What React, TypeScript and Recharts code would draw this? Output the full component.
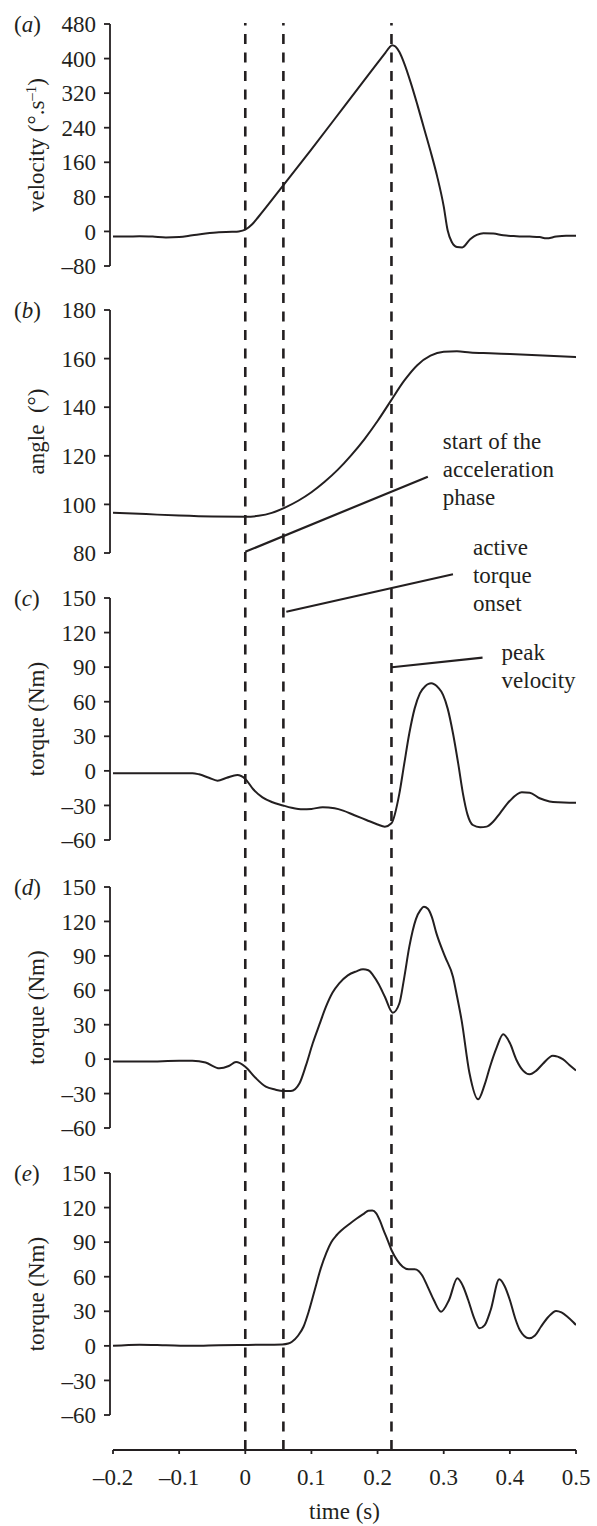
import { LineChart, Line, XAxis, YAxis, ReferenceLine } from 'recharts'

const W = 597
const H = 1526
const PAD = 12
const INK = '#231f20'
const FONT = '"Liberation Serif", "Times New Roman", serif'
const FS = 23

// shared time axis (s)
const timeTicks = [-0.2, -0.1, 0, 0.1, 0.2, 0.3, 0.4, 0.5]
// start of acceleration phase, active torque onset, peak velocity
const eventTimes = [0, 0.0576, 0.221]

// (a) velocity
const velTicks = [-80, 0, 80, 160, 240, 320, 400, 480]
const velT = [-0.2, -0.18, -0.16, -0.14, -0.12, -0.1, -0.08, -0.06, -0.04, -0.02, -0.01, 0, 0.01, 0.02, 0.05, 0.1, 0.15, 0.2, 0.212, 0.218, 0.222, 0.227, 0.233, 0.24, 0.25, 0.26, 0.27, 0.28, 0.29, 0.3, 0.306, 0.312, 0.32, 0.328, 0.34, 0.35, 0.36, 0.375, 0.39, 0.41, 0.43, 0.445, 0.455, 0.47, 0.485, 0.5]
const velV = [-12, -12, -11, -12, -14, -13, -9, -5, -2, -1, 0, 4, 16, 34, 92, 190, 290, 390, 414, 426, 431, 428, 415, 390, 345, 294, 240, 186, 128, 58, 2, -24, -36, -37, -18, -8, -4, -5, -9, -11, -12, -13, -16, -12, -10, -10]

// (b) angle
const angTicks = [80, 100, 120, 140, 160, 180]
const angT = [-0.2, -0.15, -0.1, -0.05, 0, 0.02, 0.04, 0.06, 0.08, 0.1, 0.12, 0.14, 0.16, 0.18, 0.2, 0.22, 0.24, 0.26, 0.28, 0.3, 0.32, 0.34, 0.37, 0.4, 0.45, 0.5]
const angV = [96.6, 96.0, 95.4, 95.0, 94.9, 95.3, 96.5, 98.7, 101.5, 105, 109.3, 114.3, 120.2, 126.8, 134.3, 142.6, 150.8, 157.3, 161.2, 162.8, 163.0, 162.5, 162.2, 161.9, 161.3, 160.6]

// (c)-(e) torque
const torqueTicks = [-60, -30, 0, 30, 60, 90, 120, 150]

const cT = [-0.2, -0.15, -0.1, -0.08, -0.07, -0.055, -0.042, -0.028, -0.012, 0, 0.012, 0.026, 0.04, 0.057, 0.07, 0.087, 0.1, 0.117, 0.135, 0.148, 0.165, 0.183, 0.2, 0.211, 0.221, 0.233, 0.24, 0.248, 0.256, 0.264, 0.272, 0.277, 0.281, 0.286, 0.292, 0.299, 0.306, 0.314, 0.322, 0.329, 0.336, 0.344, 0.355, 0.365, 0.375, 0.385, 0.4, 0.418, 0.43, 0.445, 0.46, 0.473, 0.49, 0.5]
const cV = [-2, -2, -2, -2, -3, -6, -8.5, -6, -3.6, -7, -16, -23, -27, -30, -32, -33.4, -33, -31.6, -32.5, -34.5, -38.5, -42.6, -46.5, -48.4, -45.5, -19.5, 5, 32.6, 54, 67.3, 73.5, 75.5, 76, 75, 72, 66, 54, 32.6, 6, -19.5, -38, -47, -49, -48.4, -44, -36.8, -26, -18.6, -19, -23.8, -26.5, -27.3, -27.6, -27.6]

const dT = [-0.2, -0.15, -0.1, -0.08, -0.06, -0.039, -0.025, -0.014, 0, 0.015, 0.031, 0.045, 0.057, 0.069, 0.082, 0.092, 0.102, 0.112, 0.122, 0.132, 0.142, 0.155, 0.168, 0.178, 0.186, 0.193, 0.202, 0.211, 0.223, 0.233, 0.24, 0.248, 0.258, 0.265, 0.27, 0.276, 0.282, 0.289, 0.302, 0.314, 0.32, 0.327, 0.339, 0.352, 0.362, 0.37, 0.38, 0.39, 0.4, 0.41, 0.42, 0.43, 0.44, 0.45, 0.465, 0.48, 0.49, 0.5]
const dV = [-2, -2, -1.5, -1.5, -3, -8, -6, -2.5, -6.6, -16, -24, -26.5, -27.8, -27.8, -21, -5, 13.8, 30, 45.7, 58, 66, 73, 76.5, 78.3, 77.5, 73.3, 65, 54.4, 40.5, 48.7, 70, 98, 122, 130, 132.8, 131, 124, 109.6, 89.3, 71.8, 55, 34, -12.3, -35, -22, -6.6, 10, 21.6, 14, -0.7, -10, -13.2, -10, -4, 3, 0, -5, -10]

const eT = [-0.2, -0.16, -0.12, -0.08, -0.04, 0, 0.03, 0.056, 0.065, 0.0706, 0.08, 0.088, 0.096, 0.105, 0.114, 0.1227, 0.13, 0.138, 0.146, 0.158, 0.169, 0.18, 0.186, 0.192, 0.198, 0.204, 0.209, 0.215, 0.221, 0.23, 0.238, 0.247, 0.256, 0.262, 0.267, 0.276, 0.285, 0.296, 0.308, 0.3206, 0.329, 0.337, 0.346, 0.354, 0.362, 0.371, 0.384, 0.392, 0.4, 0.408, 0.415, 0.429, 0.438, 0.447, 0.458, 0.47, 0.478, 0.487, 0.496, 0.5]
const eV = [0, 1, 0.5, 0, 0.5, 0.8, 1, 1.2, 2, 3.6, 9, 16.6, 30, 48.5, 67, 81, 90, 96, 100.5, 106, 110.7, 115, 117.3, 117.5, 115, 108, 100.5, 92, 83.2, 74, 68.7, 66.4, 66.4, 65, 61.5, 51, 39.8, 29.7, 39.8, 58.6, 52, 39.8, 24, 15.2, 18, 31.1, 57.8, 52, 39.8, 24, 13.8, 6.6, 9, 16.6, 25, 30.3, 29, 25.3, 20.5, 18.1]

// annotation leaders: [t, value] in the panel they are drawn in
const noteAccel = { from: [0, 80.5], to: [0.276, 111.4], lines: ['start of the', 'acceleration', 'phase'] }
const noteOnset = { from: [0.062, 138.1], to: [0.314, 170.6], lines: ['active', 'torque', 'onset'] }
const notePeak = { from: [0.2217, 89.9], to: [0.3587, 98.2], lines: ['peak', 'velocity'] }

const zip = (ts: number[], vs: number[]) => ts.map((t, i) => ({ t, v: vs[i] }))

const fmtNum = (v: number) => String(v).replace('-', '\u2013')
const fmtTime = (v: number) => (v === 0 ? '0' : v.toFixed(1).replace('-', '\u2013'))

const tickStyle = { fontSize: FS, fill: INK, fontFamily: FONT }

function AxisTitle({ viewBox, title, letter }: any) {
  const y0 = viewBox?.y ?? PAD
  const cy = y0 + (viewBox?.height ?? 0) / 2
  return (
    <g>
      <text x={14} y={y0 + 8} fontFamily={FONT} fontSize={FS} fill={INK}>
        (<tspan fontStyle="italic">{letter}</tspan>)
      </text>
      <text
        transform={`translate(44, ${cy}) rotate(-90)`}
        textAnchor="middle"
        fontFamily={FONT}
        fontSize={FS}
        fill={INK}
      >
        {title}
      </text>
    </g>
  )
}

function NoteText({ viewBox, lines, dx, dy }: any) {
  const x = (viewBox?.x ?? 0) + (viewBox?.width ?? 0) + dx
  const y = (viewBox?.y ?? 0) + dy
  return (
    <text x={x} y={y} fontFamily={FONT} fontSize={FS} fill={INK}>
      {lines.map((l: string, i: number) => (
        <tspan key={l} x={x} dy={i === 0 ? 0 : 28}>
          {l}
        </tspan>
      ))}
    </text>
  )
}

function noteLine(note: any, dx: number, dy: number) {
  return (
    <ReferenceLine
      key={note.lines[0]}
      segment={[
        { x: note.from[0], y: note.from[1] },
        { x: note.to[0], y: note.to[1] },
      ]}
      stroke={INK}
      strokeWidth={2.2}
      ifOverflow="visible"
      label={<NoteText lines={note.lines} dx={dx} dy={dy} />}
    />
  )
}

function Panel({ data, top, height, domain, ticks, letter, title, children }: any) {
  return (
    <div style={{ position: 'absolute', left: 0, top: top - PAD, width: W, height: height + 2 * PAD }}>
      <LineChart
        width={W}
        height={height + 2 * PAD}
        data={data}
        margin={{ top: PAD, right: 21, bottom: PAD, left: 0 }}
      >
        <XAxis dataKey="t" type="number" domain={[-0.2, 0.5]} hide padding={{ left: 3, right: 0 }} allowDataOverflow />
        <YAxis
          type="number"
          domain={domain}
          ticks={ticks}
          interval={0}
          width={110}
          tickSize={6}
          tickMargin={8}
          tickFormatter={fmtNum}
          tick={tickStyle}
          axisLine={{ stroke: INK, strokeWidth: 1.8 }}
          tickLine={{ stroke: INK, strokeWidth: 1.8 }}
          label={<AxisTitle title={title} letter={letter} />}
          allowDataOverflow
        />
        <Line
          dataKey="v"
          type="monotone"
          stroke={INK}
          strokeWidth={2}
          dot={false}
          isAnimationActive={false}
        />
        {children}
      </LineChart>
    </div>
  )
}

export default function App() {
  return (
    <div style={{ position: 'absolute', left: 0, top: 0, width: W, height: H, background: '#fff' }}>
      <style>{'.recharts-surface{overflow:visible}'}</style>
      <Panel
        data={zip(velT, velV)}
        top={24}
        height={242}
        domain={[-80, 480]}
        ticks={velTicks}
        letter="a"
        title={
          <>
            velocity (°.s
            <tspan dy={-8} fontSize={15}>
              {'\u20131'}
            </tspan>
            <tspan dy={8}>)</tspan>
          </>
        }
      />
      <Panel
        data={zip(angT, angV)}
        top={310}
        height={243}
        domain={[80, 180]}
        ticks={angTicks}
        letter="b"
        title={'angle\u2002(°)'}
      >
        {noteLine(noteAccel, 15, -28)}
      </Panel>
      <Panel
        data={zip(cT, cV)}
        top={598}
        height={242}
        domain={[-60, 150]}
        ticks={torqueTicks}
        letter="c"
        title="torque (Nm)"
      >
        {noteLine(noteOnset, 20, -19)}
        {noteLine(notePeak, 19, 2)}
      </Panel>
      <Panel
        data={zip(dT, dV)}
        top={887}
        height={241}
        domain={[-60, 150]}
        ticks={torqueTicks}
        letter="d"
        title="torque (Nm)"
      />
      <Panel
        data={zip(eT, eV)}
        top={1173}
        height={242}
        domain={[-60, 150]}
        ticks={torqueTicks}
        letter="e"
        title="torque (Nm)"
      />
      {/* event markers + shared time axis */}
      <div style={{ position: 'absolute', left: 0, top: 0, width: W, height: H }}>
        <LineChart width={W} height={H} data={zip(velT, velV)} margin={{ top: 23, right: 21, bottom: 0, left: 113 }}>
          <XAxis
            dataKey="t"
            type="number"
            domain={[-0.2, 0.5]}
            ticks={timeTicks}
            interval={0}
            height={76}
            tickSize={4}
            tickMargin={15}
            tickFormatter={fmtTime}
            tick={tickStyle}
            axisLine={{ stroke: INK, strokeWidth: 1.8 }}
            tickLine={{ stroke: INK, strokeWidth: 1.8 }}
            label={({ viewBox }: any) => (
              <text
                x={viewBox.x + viewBox.width / 2}
                y={viewBox.y + 69}
                textAnchor="middle"
                fontFamily={FONT}
                fontSize={FS}
                fill={INK}
              >
                time (s)
              </text>
            )}
          />
          <YAxis hide type="number" domain={[0, 1]} allowDataOverflow />
          {eventTimes.map((t) => (
            <ReferenceLine
              key={t}
              x={t}
              stroke={INK}
              strokeWidth={2.6}
              strokeDasharray="10 8.5"
              ifOverflow="visible"
            />
          ))}
        </LineChart>
      </div>
    </div>
  )
}
